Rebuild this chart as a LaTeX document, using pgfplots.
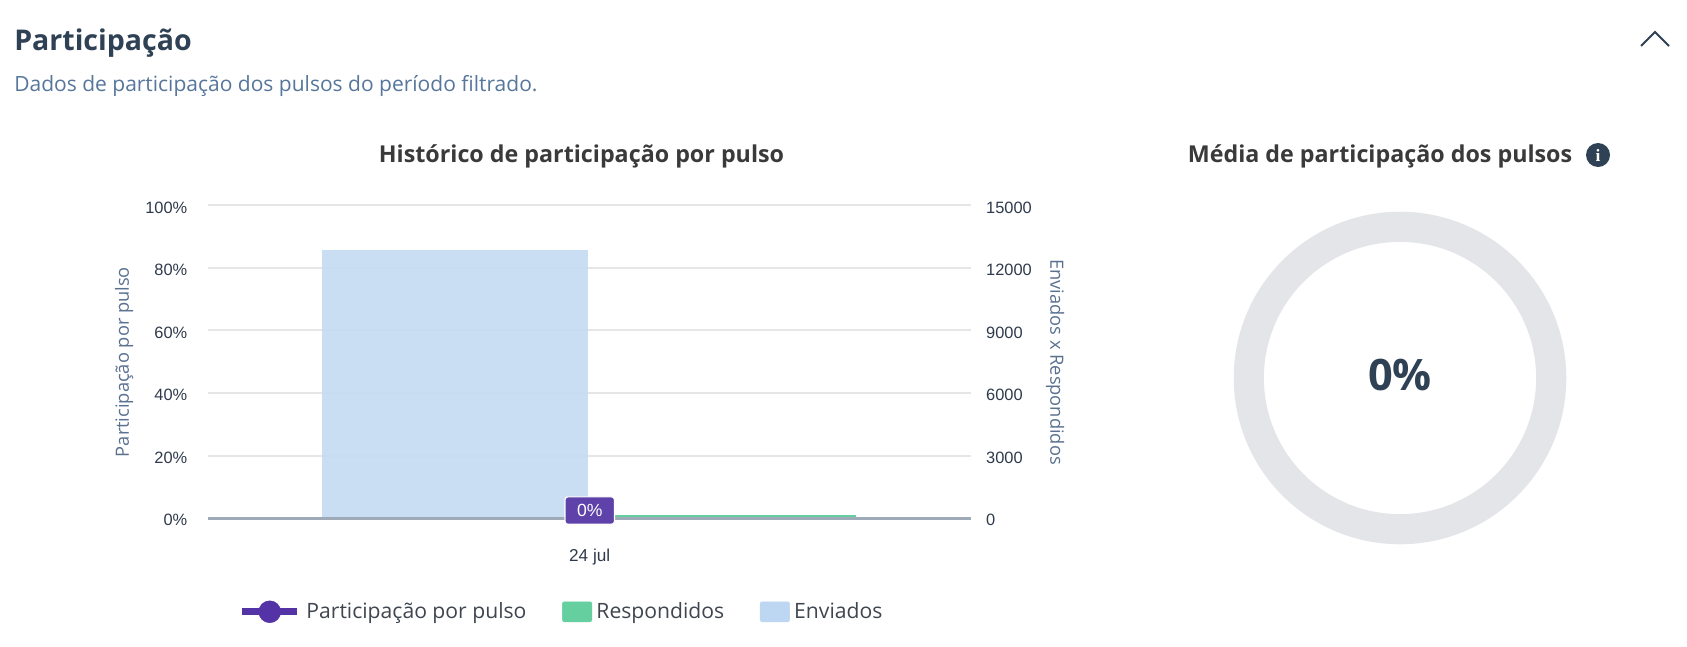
\documentclass[border=0pt]{standalone}
\usepackage{fontspec}
\setmainfont{Open Sans}
\newfontfamily\arial{Liberation Sans}
\newfontfamily\iconf{Liberation Serif}
\usepackage{pgfplots}
\pgfplotsset{compat=1.18}

\definecolor{headc}{HTML}{2F4154}
\definecolor{subc}{HTML}{56769B}
\definecolor{titlec}{HTML}{3A3A3A}
\definecolor{tickc}{HTML}{2F3B4C}
\definecolor{labelc}{HTML}{5A7190}
\definecolor{gridc}{HTML}{E6E6E6}
\definecolor{basec}{HTML}{9FAAB8}
\definecolor{enviados}{HTML}{BDD7F2}
\definecolor{envbar}{HTML}{C6DCF3}
\definecolor{respond}{HTML}{66CF9F}
\definecolor{partic}{HTML}{5433A6}
\definecolor{tagc}{HTML}{5E41A9}
\definecolor{ringc}{HTML}{E4E5E9}
\definecolor{legc}{HTML}{3F4650}

% 1 px of the reference = 0.75pt
\pgfplotsset{
  chartbase/.style={
    scale only axis,
    width=572.6pt, height=234.4pt,
    at={(156pt,-388.5pt)}, anchor=south west,
    xmin=-1, xmax=1,
    clip=false,
    major tick length=0pt,
    scaled y ticks=false,
    tick label style={font=\arial\fontsize{12.3}{14}\selectfont, text=tickc},
    /pgf/number format/assume math mode=true,
  },
}

\begin{document}
\begin{tikzpicture}[x=0.75pt,y=-0.75pt]
\fill[white] (0,0) rectangle (1687,646);
\path[use as bounding box] (0,0) rectangle (1687,646);

\node[anchor=west,inner sep=0pt,text=headc,font=\bfseries\fontsize{21.4}{24}\selectfont] at (14,43) {Participação};
\node[anchor=west,inner sep=0pt,text=subc,font=\fontsize{15.75}{18}\selectfont] at (14,86) {Dados de participação dos pulsos do período filtrado.};
\draw[headc,line width=1.4pt,line join=miter] (1641,46) -- (1655,32) -- (1669,46);
\node[anchor=center,text=titlec,font=\bfseries\fontsize{17.45}{20}\selectfont] at (581.5,156.5) {Histórico de participação por pulso};
\node[anchor=center,text=titlec,font=\bfseries\fontsize{17.45}{20}\selectfont] at (1380,156.5) {Média de participação dos pulsos};
\fill[headc] (1598,155) circle[radius=12];
\node[text=white,font=\iconf\bfseries\fontsize{13}{14}\selectfont,inner sep=0pt] at (1598,155) {i};

% bars, grid and right scale
\begin{axis}[chartbase,
  ymin=0, ymax=15000,
  axis x line=none,
  axis y line=right,
  y axis line style={draw=none},
  ytick={0,3000,6000,9000,12000,15000},
  yticklabels={0,3000,6000,9000,12000,15000},
  ymajorgrids,
  grid style={gridc,line width=1.5pt},
  yticklabel style={anchor=west,xshift=7.5pt,yshift=-1.7pt},
  ylabel={Enviados x Respondidos},
  ylabel style={at={(axis description cs:1.1094,0.499)},anchor=center,rotate=180,
    font=\fontsize{13.7}{15}\selectfont,text=labelc},
  ybar,
  legend style={at={(axis description cs:0.4636,-0.30)},anchor=center,draw=none,fill=none,
    legend columns=3,
    font=\fontsize{15.85}{18}\selectfont,text=legc,
    /tikz/every even column/.append style={column sep=24.8pt},
    legend cell align=left},
]
\addplot[forget plot,ybar,draw=none,fill=envbar,fill opacity=0.92,
  bar width=200pt,bar shift=-101pt] coordinates {(0,12880)};
\addplot[forget plot,ybar,draw=none,fill=respond,
  bar width=181.5pt,bar shift=108.7pt] coordinates {(0,130)};
\addlegendimage{legend image code/.code={
  \path[draw=none] (0pt,0pt) -- (46pt,0pt);
  \draw[partic,line width=5.5pt] (0pt,0pt) -- (41pt,0pt);
  \fill[partic] (20.5pt,0pt) circle[radius=8.2pt];}}
\addlegendentry{Participação por pulso}
\addlegendimage{legend image code/.code={
  \path[draw=none] (0pt,0pt) -- (23.5pt,0pt);
  \fill[respond,rounded corners=1.5pt] (0pt,-7.5pt) rectangle (22pt,7.5pt);}}
\addlegendentry{Respondidos}
\addlegendimage{legend image code/.code={
  \path[draw=none] (0pt,0pt) -- (23.5pt,0pt);
  \fill[enviados,rounded corners=1.5pt] (0pt,-7.5pt) rectangle (22pt,7.5pt);}}
\addlegendentry{Enviados}
\end{axis}

% participation line and left scale
\begin{axis}[chartbase,
  ymin=0, ymax=100,
  axis x line=bottom,
  axis y line=left,
  x axis line style={draw=basec,line width=1.8pt,yshift=-0.5pt,-},
  y axis line style={draw=none},
  xtick={0},
  xticklabels={24 jul},
  xticklabel style={yshift=-19.5pt,font=\arial\fontsize{12.9}{14}\selectfont},
  ytick={0,20,40,60,80,100},
  yticklabels={0\%,20\%,40\%,60\%,80\%,100\%},
  yticklabel style={anchor=east,xshift=-12pt,yshift=-1.7pt},
  ylabel={Participação por pulso},
  ylabel style={at={(axis description cs:-0.11,0.499)},anchor=center,
    font=\fontsize{13.7}{15}\selectfont,text=labelc},
]
\addplot[draw=none,mark=none,
  nodes near coords={0\%},
  every node near coord/.style={anchor=center,yshift=5.6pt,fill=tagc,draw=white,line width=0.9pt,
    rounded corners=2pt,text=white,font=\arial\fontsize{13.2}{14}\selectfont,
    minimum width=37pt,minimum height=20.5pt,inner sep=0pt},
] coordinates {(0,0)};
\end{axis}

% average ring
\begin{axis}[
  scale only axis, width=232.5pt, height=232.5pt,
  at={(1050pt,-283.5pt)}, anchor=center,
  xmin=-1, xmax=1, ymin=-1, ymax=1,
  hide axis, clip=false,
]
\addplot[only marks,mark=o,mark size=113.4pt,
  mark options={draw=ringc,line width=22.6pt},
  nodes near coords={0\%},
  every node near coord/.style={anchor=center,yshift=2.5pt,text=headc,
    font=\bfseries\fontsize{32.5}{36}\selectfont},
] coordinates {(0,0)};
\end{axis}
\end{tikzpicture}
\end{document}
